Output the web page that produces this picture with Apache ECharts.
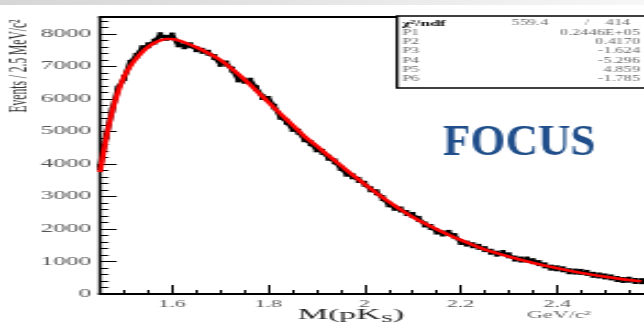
<!DOCTYPE html>
<html>
<head>
<meta charset="utf-8">
<script src="https://cdn.jsdelivr.net/npm/echarts@6/dist/echarts.min.js"></script>
<style>
  html, body { margin: 0; padding: 0; background: #fff; overflow: hidden; }
  /* The plot is laid out in a narrow frame and widened horizontally */
  #chart { width: 293px; height: 333px; transform: scaleX(2.19795); transform-origin: 0 0; }
</style>
</head>
<body>
<div id="chart"></div>
<script>
const STRETCH = 644 / 293;

// Invariant mass bins (GeV/c^2) and event counts per bin
const massBins = [
  1.45, 1.4625, 1.475, 1.4875, 1.5, 1.5125, 1.525, 1.5375, 1.55, 1.5625,
  1.575, 1.5875, 1.6, 1.6125, 1.625, 1.6375, 1.65, 1.6625, 1.675, 1.6875,
  1.7, 1.7125, 1.725, 1.7375, 1.75, 1.7625, 1.775, 1.7875, 1.8, 1.8125,
  1.825, 1.8375, 1.85, 1.8625, 1.875, 1.8875, 1.9, 1.9125, 1.925, 1.9375,
  1.95, 1.9625, 1.975, 1.9875, 2.0, 2.0125, 2.025, 2.0375, 2.05, 2.0625,
  2.075, 2.0875, 2.1, 2.1125, 2.125, 2.1375, 2.15, 2.1625, 2.175, 2.1875,
  2.2, 2.2125, 2.225, 2.2375, 2.25, 2.2625, 2.275, 2.2875, 2.3, 2.3125,
  2.325, 2.3375, 2.35, 2.3625, 2.375, 2.3875, 2.4, 2.4125, 2.425, 2.4375,
  2.45, 2.4625, 2.475, 2.4875, 2.5, 2.5125, 2.525, 2.5375, 2.55, 2.5625,
  2.575
];
const eventCounts = [
  3900, 4850, 5650, 6320, 6640, 7110, 7320, 7560, 7650, 7760,
  7960, 7880, 7950, 7680, 7620, 7650, 7530, 7480, 7420, 7290,
  7080, 7090, 6900, 6600, 6560, 6560, 6330, 6060, 6000, 5760,
  5450, 5300, 5080, 4990, 4760, 4640, 4450, 4370, 4190, 4080,
  3880, 3700, 3620, 3510, 3390, 3220, 3130, 2950, 2760, 2650,
  2600, 2490, 2430, 2310, 2140, 2060, 1920, 1860, 1880, 1780,
  1600, 1550, 1500, 1450, 1380, 1300, 1240, 1260, 1190, 1090,
  1060, 1060, 1010, 950, 880, 810, 790, 760, 700, 690,
  680, 650, 590, 570, 540, 510, 460, 430, 440, 400,
  395
];

// Fitted background curve
const fitMass = [
  1.45, 1.4625, 1.475, 1.4875, 1.5, 1.5125, 1.525, 1.5375, 1.55, 1.5625,
  1.575, 1.5875, 1.6, 1.6125, 1.625, 1.65, 1.675, 1.7, 1.725, 1.75,
  1.775, 1.8, 1.825, 1.85, 1.875, 1.9, 1.925, 1.95, 1.975, 2.0,
  2.025, 2.05, 2.075, 2.1, 2.125, 2.15, 2.175, 2.2, 2.225, 2.25,
  2.275, 2.3, 2.325, 2.35, 2.375, 2.4, 2.425, 2.45, 2.475, 2.5,
  2.525, 2.55, 2.575
];
const fitCounts = [
  3750, 4780, 5600, 6220, 6680, 7000, 7240, 7440, 7600, 7720,
  7800, 7840, 7840, 7800, 7740, 7590, 7410, 7200, 6915, 6600,
  6255, 5900, 5545, 5200, 4850, 4560, 4255, 3960, 3665, 3380,
  3105, 2840, 2595, 2370, 2170, 1990, 1820, 1660, 1510, 1370,
  1255, 1150, 1052, 960, 875, 795, 720, 650, 588, 530,
  478, 430, 388
];

// Labelled mass ticks
const majorMass = [1.6, 1.8, 2.0, 2.2, 2.4];

// Fit statistics box
const chi2Value = '559.4';
const ndfValue = '414';
const statNames = ['P1', 'P2', 'P3', 'P4', 'P5', 'P6'];
const statValues = ['0.2446E+05', '0.4170', '-1.624', '-5.296', '4.859', '-1.785'];

const MASS_MIN = 1.45, MASS_MAX = 2.581;
const SERIF = '"Liberation Serif", "DejaVu Serif", serif';

// Helpers converting page pixels to the narrow frame
const fx = (px) => px / STRETCH;

const graphics = [];

// soft grey band along the top
graphics.push({
  type: 'rect', silent: true, z: 0,
  shape: { x: 0, y: 0, width: 293, height: 5 },
  style: {
    fill: new echarts.graphic.LinearGradient(0, 0, 1, 0, [
      { offset: 0, color: '#d6d6d6' },
      { offset: 1, color: '#f7f7f7' }
    ])
  }
});

// statistics box
const boxTop = 16, boxBottom = 88;
graphics.push({
  type: 'rect', z: 50,
  shape: { x: fx(397), y: boxTop, width: 200, height: boxBottom - boxTop },
  style: { fill: '#fff', stroke: '#000', lineWidth: 1.3 }
});
const rowY = (i) => 23.5 + i * 9.3;
const STAT_FONT = 7.4;
graphics.push({
  type: 'text', z: 51,
  x: fx(402), y: rowY(0),
  style: { text: 'χ²/ndf', fill: '#000', fontFamily: SERIF, fontSize: 8, fontWeight: 'bold',
           align: 'left', verticalAlign: 'middle', textAlign: 'left', textVerticalAlign: 'middle' }
});
graphics.push({
  type: 'text', z: 51, x: fx(548), y: rowY(0),
  style: { text: chi2Value, fill: '#666', fontFamily: SERIF, fontSize: STAT_FONT,
           align: 'right', verticalAlign: 'middle', textAlign: 'right', textVerticalAlign: 'middle' }
});
graphics.push({
  type: 'text', z: 51, x: fx(587), y: rowY(0),
  style: { text: '/', fill: '#666', fontFamily: SERIF, fontSize: STAT_FONT,
           align: 'center', verticalAlign: 'middle', textAlign: 'center', textVerticalAlign: 'middle' }
});
graphics.push({
  type: 'text', z: 51, x: fx(630), y: rowY(0),
  style: { text: ndfValue, fill: '#666', fontFamily: SERIF, fontSize: STAT_FONT,
           align: 'right', verticalAlign: 'middle', textAlign: 'right', textVerticalAlign: 'middle' }
});
statNames.forEach((name, i) => {
  graphics.push({
    type: 'text', z: 51, x: fx(402), y: rowY(i + 1),
    style: { text: name, fill: '#666', fontFamily: SERIF, fontSize: STAT_FONT,
             align: 'left', verticalAlign: 'middle', textAlign: 'left', textVerticalAlign: 'middle' }
  });
  graphics.push({
    type: 'text', z: 51, x: fx(640), y: rowY(i + 1),
    style: { text: statValues[i], fill: '#666', fontFamily: SERIF, fontSize: STAT_FONT,
             align: 'right', verticalAlign: 'middle', textAlign: 'right', textVerticalAlign: 'middle' }
  });
});

// experiment tag, kept at natural proportions
graphics.push({
  type: 'text', z: 60, x: fx(443), y: 143, scaleX: 1 / STRETCH,
  style: { text: 'FOCUS', fill: '#1f4e8a', fontFamily: SERIF, fontSize: 45, fontWeight: 'bold',
           align: 'left', verticalAlign: 'middle', textAlign: 'left', textVerticalAlign: 'middle' }
});

// y-axis title
graphics.push({
  type: 'text', z: 10, x: fx(20), y: 66, rotation: Math.PI / 2,
  style: { text: 'Events / 2.5 MeV/c²', fill: '#333', fontFamily: SERIF, fontSize: 11.5,
           align: 'center', verticalAlign: 'middle', textAlign: 'center', textVerticalAlign: 'middle' }
});

// x-axis title
graphics.push({
  type: 'text', z: 10, x: fx(351), y: 315,
  style: {
    text: 'M(pK{s|S})', fill: '#222', fontFamily: SERIF, fontSize: 15.5, lineHeight: 18,
    align: 'center', verticalAlign: 'middle', textAlign: 'center', textVerticalAlign: 'middle',
    rich: { s: { fontFamily: SERIF, fontSize: 10, fill: '#222', lineHeight: 4, verticalAlign: 'bottom' } }
  }
});

// unit label
graphics.push({
  type: 'text', z: 10, x: fx(527), y: 315,
  style: { text: 'GeV/c²', fill: '#666', fontFamily: SERIF, fontSize: 10,
           align: 'left', verticalAlign: 'middle', textAlign: 'left', textVerticalAlign: 'middle' }
});

const chart = echarts.init(document.getElementById('chart'), null, { renderer: 'canvas', devicePixelRatio: 1 });

chart.setOption({
  animation: false,
  backgroundColor: '#fff',
  grid: { left: fx(100), right: 0, top: 17, bottom: 39, containLabel: false, outerBoundsMode: 'none' },
  xAxis: [
    {
      type: 'value', min: MASS_MIN, max: MASS_MAX, interval: 0.05, position: 'bottom',
      axisLine: { show: true, onZero: false, lineStyle: { color: '#000', width: 2.2 } },
      axisTick: { show: true, inside: true, length: 4, lineStyle: { color: '#000', width: 1 } },
      axisLabel: { show: false },
      splitLine: { show: false }
    },
    {
      type: 'value', min: MASS_MIN, max: MASS_MAX, position: 'bottom',
      axisLine: { show: false, onZero: false },
      axisTick: { show: true, inside: true, length: 9, customValues: majorMass,
                  lineStyle: { color: '#000', width: 1 } },
      axisLabel: { show: true, customValues: majorMass, margin: 5, color: '#555',
                   fontFamily: SERIF, fontSize: 10, formatter: (v) => String(v) },
      splitLine: { show: false }
    },
    {
      type: 'value', min: MASS_MIN, max: MASS_MAX, position: 'top',
      axisLine: { show: true, onZero: false, lineStyle: { color: '#000', width: 2 } },
      axisTick: { show: false }, axisLabel: { show: false }, splitLine: { show: false }
    }
  ],
  yAxis: {
    type: 'value', min: 0, max: 8520, interval: 1000,
    axisLine: { show: true, onZero: false, lineStyle: { color: '#000', width: 1.4 } },
    axisTick: { show: true, inside: true, length: 7.6, lineStyle: { color: '#000', width: 1 } },
    minorTick: { show: true, splitNumber: 5, length: 3.8, lineStyle: { color: '#000', width: 1 } },
    axisLabel: { margin: 4, color: '#555', fontFamily: SERIF, fontSize: 11.5, showMaxLabel: false,
                 formatter: (v) => String(v) },
    splitLine: { show: false }
  },
  series: [
    {
      name: 'Data', type: 'line', xAxisIndex: 0,
      data: massBins.map((m, i) => [m, eventCounts[i]]),
      symbol: 'rect', symbolSize: [2.6, 6],
      itemStyle: { color: '#000' },
      lineStyle: { color: '#000', width: 2.6 },
      z: 2
    },
    {
      name: 'Fit', type: 'line', xAxisIndex: 0,
      data: fitMass.map((m, i) => [m, fitCounts[i]]),
      smooth: 0.3, symbol: 'none',
      lineStyle: { color: '#ff0000', width: 2.5 },
      z: 3
    }
  ],
  graphic: { elements: graphics }
});
</script>
</body>
</html>
